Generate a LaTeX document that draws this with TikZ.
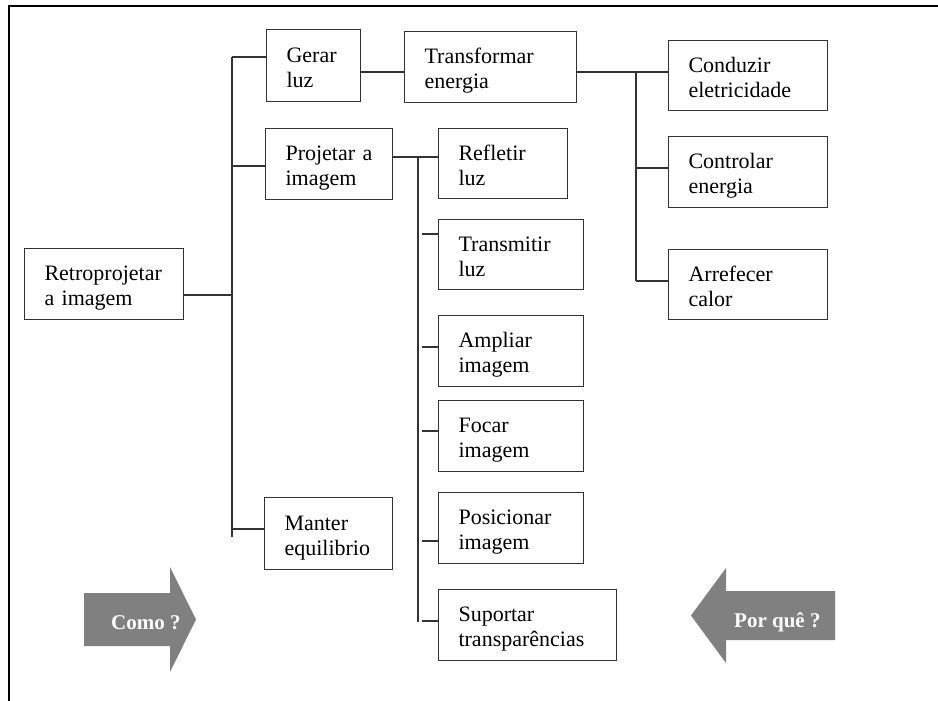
\documentclass[tikz,border=0pt]{standalone}
\usepackage{fontspec}
\setmainfont{Liberation Serif}
\definecolor{arrowgrey}{HTML}{808080}
\begin{document}
\begin{tikzpicture}[x=1pt,y=-1pt,
  link/.style={draw=black!80, line width=1.1pt},
  cell/.style n args={2}{link, fill=white, anchor=north west,
    minimum width=#1, minimum height=#2, text width=#1-40pt,
    inner xsep=20pt, inner ysep=0pt, align=left,
    font=\fontsize{22}{25}\selectfont,
    execute at begin node={\rule{0pt}{24pt}},
    execute at end node={\rule[-6pt]{0pt}{6pt}}},
  tag/.style={text=white, inner sep=0pt, anchor=base west,
    font=\fontsize{21}{24}\selectfont\bfseries}]
  \useasboundingbox (0,0) rectangle (938,701);
  \fill[white] (0,0) rectangle (938,701);

  % frame: top and left edges only
  \draw[line width=2.2pt] (938,6) -- (9,6) -- (9,701);

  % function boxes
  \node[cell={159pt}{71pt}] (retro)  at (24,248)  {Retroprojetar\\a imagem};
  \node[cell={94pt}{72pt}]  (gerar)  at (266,29)  {Gerar\\luz};
  \node[cell={172pt}{71pt}] (transf) at (404,31)  {Transformar\\energia};
  \node[cell={127pt}{71pt}] (proj)   at (265,128) {Projetar a\\imagem};
  \node[cell={128pt}{72pt}] (manter) at (264,497) {Manter\\equilibrio};
  \node[cell={129pt}{70pt}] (refl)   at (438,128) {Refletir\\luz};
  \node[cell={145pt}{70pt}] (transm) at (438,219) {Transmitir\\luz};
  \node[cell={145pt}{71pt}] (ampl)   at (438,315) {Ampliar\\imagem};
  \node[cell={145pt}{71pt}] (focar)  at (438,400) {Focar\\imagem};
  \node[cell={145pt}{71pt}] (posic)  at (438,492) {Posicionar\\imagem};
  \node[cell={178pt}{71pt}] (suport) at (438,589) {Suportar\\transparências};
  \node[cell={159pt}{70pt}] (cond)   at (668,40)  {Conduzir\\eletricidade};
  \node[cell={159pt}{71pt}] (ctrl)   at (668,136) {Controlar\\energia};
  \node[cell={159pt}{70pt}] (arref)  at (668,249) {Arrefecer\\calor};

  % first-level trunk
  \coordinate (aG) at (232,57);
  \coordinate (aP) at (232,166);
  \coordinate (aR) at (232,295);
  \coordinate (aM) at (232,529);
  \coordinate (aEnd) at (232,537);
  \draw[link] (aG) -- (aEnd);
  \draw[link] (retro.east |- aR) -- (aR);
  \draw[link] (aG) -- (aG -| gerar.west);
  \draw[link] (aP) -- (aP -| proj.west);
  \draw[link] (aM) -- (aM -| manter.west);

  % Gerar luz -> Transformar energia
  \coordinate (gt) at (382,72);
  \draw[link] (gerar.east |- gt) -- (transf.west |- gt);

  % Transformar energia branch
  \coordinate (cTop) at (636,72);
  \coordinate (cCtl) at (636,168);
  \coordinate (cBot) at (636,281);
  \draw[link] (transf.east |- cTop) -- (cTop -| cond.west);
  \draw[link] (cTop) -- (cBot);
  \draw[link] (cCtl) -- (cCtl -| ctrl.west);
  \draw[link] (cBot) -- (cBot -| arref.west);

  % Projetar a imagem branch
  \coordinate (bTop) at (418,157);
  \coordinate (bEnd) at (418,622);
  \draw[link] (proj.east |- bTop) -- (bTop -| refl.west);
  \draw[link] (bTop) -- (bEnd);
  \coordinate (b1) at (422,234);
  \coordinate (b2) at (422,347);
  \coordinate (b3) at (422,431);
  \coordinate (b4) at (422,541);
  \coordinate (b5) at (422,621);
  \draw[link] (b1) -- (b1 -| transm.west);
  \draw[link] (b2) -- (b2 -| ampl.west);
  \draw[link] (b3) -- (b3 -| focar.west);
  \draw[link] (b4) -- (b4 -| posic.west);
  \draw[link] (b5) -- (b5 -| suport.west);

  % direction arrows
  \fill[arrowgrey] (84,593) -- (170,593) -- (170,567) -- (196,619.5)
    -- (170,672) -- (170,646) -- (84,646) -- cycle;
  \node[tag] (como) at (111,629) {Como ?};
  \fill[arrowgrey] (835,591) -- (726,591) -- (726,568) -- (691,615.5)
    -- (726,663) -- (726,640) -- (835,640) -- cycle;
  \node[tag] (porque) at (734,627) {Por quê ?};
\end{tikzpicture}
\end{document}
